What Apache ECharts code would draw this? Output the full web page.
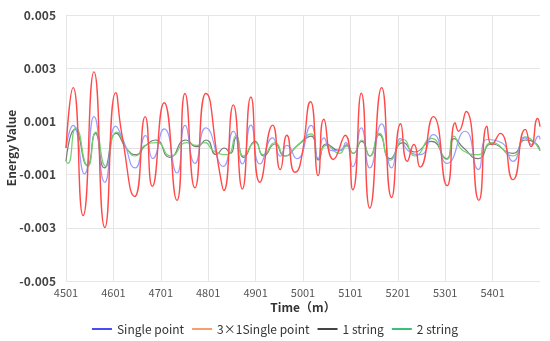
<!DOCTYPE html>
<html>
<head>
<meta charset="utf-8">
<script src="https://cdn.jsdelivr.net/npm/echarts@6/dist/echarts.min.js"></script>
<style>html,body{margin:0;padding:0;background:#fff}#c{width:550px;height:341px}</style>
</head>
<body>
<div id="c"></div>
<script>
const X0 = 4501;
const xTickLabels = ['4501','4601','4701','4801','4901','5001','5101','5201','5301','5401'];
const yTickLabels = ['-0.005','-0.003','-0.001','0.001','0.003','0.005'];
const seriesNames = ['Single point', '3×1Single point', '1 string', '2 string'];

// Single point (light blue line)
const singleT = [4501,4516,4540,4560,4583,4606,4621,4647,4669,4684,4708,4735,4752,4773,4796,4833,4854,4873,4891,4910,4937,4953,4967,4988,5018,5033,5045,5062,5079,5091,5106,5124,5142,5167,5188,5207,5223,5248,5276,5305,5343,5371,5389,5420,5444,5470,5484,5498,5501];
const singleV = [0,0.00085,-0.00097,0.00118,-0.00129,0.00082,0.00032,-0.00075,0.00047,-0.0004,0.00072,-0.00094,0.00085,-0.00058,0.00076,-0.00069,0.00063,-0.0006,0.00086,-0.0006,0.00038,-0.00031,0.0001,-0.0004,0.00085,-0.0004,0.00038,-0.0001,-0.0001,0.0002,-0.0007,0.00076,-0.00075,0.00091,-0.00075,0.00035,-0.0001,-0.00025,0.0005,-0.00058,0.00063,-0.00081,0.00032,0.0002,-0.0005,0.00038,0.00013,0.00045,0.00032];

// 3x1 Single point (red line)
const tripleT = [4501,4516,4537,4560,4583,4606,4619,4646,4668,4683,4708,4735,4752,4773,4796,4826,4834,4854,4873,4891,4910,4937,4953,4967,4984,4995,5017,5033,5045,5065,5090,5106,5124,5142,5167,5188,5207,5221,5235,5248,5276,5305,5322,5329,5345,5372,5389,5399,5417,5444,5470,5482,5496,5501];
const tripleV = [0,0.00227,-0.00254,0.00286,-0.00299,0.00208,0.0005,-0.00182,0.00118,-0.00144,0.0017,-0.00197,0.00205,-0.0015,0.00205,-0.001,-0.0016,0.00162,-0.00154,0.00192,-0.00129,0.00086,-0.00081,0.00048,-0.00091,-0.00062,0.00174,-0.00104,0.00108,-0.00043,0.00048,-0.00157,0.00206,-0.00226,0.00227,-0.00186,0.00091,-0.0005,0.00013,-0.00072,0.00118,-0.00142,0.00095,0.00063,0.00137,-0.00197,0.00082,0.00013,0.00055,-0.00119,0.0007,0.00005,0.00111,0.0008];

// 1 string (grey line)
const oneT = [4501,4520,4546,4563,4582,4607,4630,4650,4668,4690,4720,4754,4776,4797,4818,4835,4848,4860,4876,4900,4918,4942,4962,4990,5018,5034,5050,5078,5093,5107,5125,5142,5162,5185,5212,5236,5272,5304,5320,5340,5371,5399,5444,5470,5490,5501];
const oneV = [-0.0005,0.0007,-0.00065,0.00055,-0.00075,0.00055,-0.00005,-0.00025,0.00008,0.0003,-0.00035,0.0003,0.00005,0.0003,-0.00025,0,-0.0002,0.0004,-0.00035,0.00025,-0.0003,0.00015,-0.0003,0.0001,0.00045,-0.00045,0.00015,-0.0001,0.00012,-0.0002,0.00025,-0.0003,0.0005,-0.0004,0.0002,-0.00015,0.00025,-0.0004,0.00035,0,-0.0004,0.00015,-0.0002,0.0003,0.0002,-0.0001];

// 2 string (green line)
const twoT = [4501,4505,4522,4547,4564,4585,4608,4632,4647,4668,4692,4722,4756,4777,4794,4812,4840,4860,4875,4900,4917,4942,4963,4991,5018,5033,5050,5078,5093,5107,5125,5142,5162,5185,5213,5237,5272,5304,5319,5339,5371,5399,5444,5470,5501];
const twoV = [-0.0005,-0.00058,0.00076,-0.00069,0.0006,-0.00069,0.0006,-0.0001,-0.0003,0.0001,0.0002,-0.0003,0.0002,0.0001,0.0002,-0.0001,-0.00025,0.00047,-0.0003,0.0002,-0.00025,0.0002,-0.0003,0.00013,0.00053,-0.0004,0.0001,-0.0002,0.00007,-0.0002,0.0003,-0.0003,0.00055,-0.00046,0.00032,-0.0003,0.00036,-0.00043,0.00045,-0.0001,-0.00025,0.0002,-0.0003,0.00042,-0.0001];

const pairs = (ts, vs) => ts.map((t, i) => [t - X0, vs[i]]);

const lineColors = ['#9c9cff', '#ff4a4a', '#7a7a7a', '#6fd46f'];
const legendColors = ['#4b4bf5', '#f5a06e', '#444444', '#3cbf7a'];
const dataSets = [pairs(singleT, singleV), pairs(tripleT, tripleV), pairs(oneT, oneV), pairs(twoT, twoV)];
const widths = [1.2, 1.4, 1.2, 1.2];
const order = [2, 3, 0, 1];

const font = '"Noto Sans CJK SC", "Noto Sans", sans-serif';
const chart = echarts.init(document.getElementById('c'), null, {renderer: 'canvas'});
chart.setOption({
  animation: false,
  backgroundColor: '#fff',
  textStyle: {fontFamily: font},
  grid: {left: 66, right: 10, top: 15, bottom: 60, containLabel: false, outerBoundsMode: 'none'},
  legend: {
    top: 318, left: 'center', itemWidth: 20, itemHeight: 12, itemGap: 8,
    textStyle: {fontSize: 12, color: '#333', fontFamily: font},
    data: seriesNames.map((n, i) => ({name: n, icon: 'path://M0,0L20,0L20,2L0,2Z', itemStyle: {color: legendColors[i]}}))
  },
  xAxis: {
    type: 'value', min: 0, max: 1000, interval: 100,
    name: 'Time（m）', nameLocation: 'middle', nameGap: 20, nameMoveOverlap: false,
    nameTextStyle: {fontSize: 12, fontWeight: 'bold', color: '#333', fontFamily: font},
    axisLine: {show: true, lineStyle: {color: '#e0e0e0'}},
    axisTick: {show: false},
    axisLabel: {fontSize: 11, color: '#555', margin: 6, showMaxLabel: false,
      formatter: v => xTickLabels[Math.round(v / 100)] || ''},
    splitLine: {show: true, showMaxLine: false, lineStyle: {color: '#e6e6e6'}}
  },
  yAxis: {
    type: 'value', min: -0.005, max: 0.005, interval: 0.002,
    name: 'Energy Value', nameLocation: 'middle', nameGap: 49, nameMoveOverlap: false,
    nameTextStyle: {fontSize: 12, fontWeight: 'bold', color: '#333', fontFamily: font},
    axisLine: {show: true, lineStyle: {color: '#e6e6e6'}},
    axisTick: {show: false},
    axisLabel: {fontSize: 12, fontWeight: 'bold', color: '#444', margin: 10,
      formatter: v => yTickLabels[Math.round((v + 0.005) / 0.002)] || ''},
    splitLine: {show: true, lineStyle: {color: '#e6e6e6'}}
  },
  series: order.map(i => ({
    name: seriesNames[i], type: 'line', data: dataSets[i], smooth: 0.6,
    symbol: 'none', z: 2 + order.indexOf(i),
    lineStyle: {color: lineColors[i], width: widths[i]},
    itemStyle: {color: legendColors[i]}
  }))
});
</script>
</body>
</html>
